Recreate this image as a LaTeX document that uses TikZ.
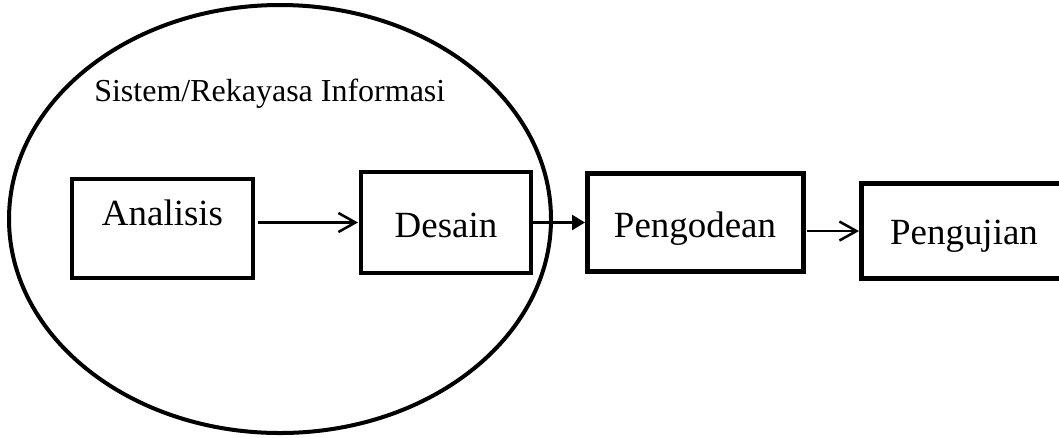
\documentclass[tikz,border=0pt]{standalone}
\usepackage{fontspec}
\setmainfont{Liberation Serif}
\usetikzlibrary{arrows.meta, shapes.geometric, positioning}

\begin{document}
\begin{tikzpicture}[
            x = 0.75pt, y = -0.75pt, % one unit per pixel
            > = {Straight Barb[length=12.75pt, width=14.25pt]}, % arrow head style
            line width = 1.9pt % line style
        ]

        \tikzstyle{tahap}=[
            draw = black,
            line width = 2.6pt,
            inner sep = 0pt,
            outer sep = 0pt,
            font = \fontsize{27.7}{30}\selectfont
        ]
        \tikzstyle{tahap tebal}=[tahap, line width = 3.75pt]

        \useasboundingbox (0,0) rectangle (1059,437);

        \node[draw, ellipse, line width = 3pt, minimum width = 406.5pt, minimum height = 321pt] (lingkup) at (280,219) {};
        \node[anchor = base west, inner sep = 0pt, font = \fontsize{24}{28}\selectfont] (judul) at (93,101) {Sistem/Rekayasa Informasi};

        \node[tahap, minimum width = 135.75pt, text height = 34.5pt, text depth = 39.75pt] (ana) at (162.5,228.5) {Analisis};
        \node[tahap, minimum width = 127.5pt, text height = 48.75pt, text depth = 27pt] (des) [right = 81pt of ana, yshift = 4.5pt] {Desain};
        \node[tahap tebal, minimum width = 162pt, text height = 48pt, text depth = 25.9pt] (kod) [right = 42pt of des] {Pengodean};
        \node[tahap tebal, minimum width = 154.5pt, text height = 45.75pt, text depth = 25.5pt] (uji) [right = 43.5pt of kod, yshift = -6.4pt] {Pengujian};

        \draw[->, shorten <= 3.75pt, shorten >= 2.25pt] (ana.east |- des.west) -- (des.west);
        \draw[-{Triangle[length = 9.75pt, width = 11.25pt]}, shorten >= 1.5pt] (des.east) -- (kod.west);
        \draw[->, shorten <= 3pt, shorten >= 1.5pt] (kod.east |- uji.west) -- (uji.west);

  \end{tikzpicture}
\end{document}
